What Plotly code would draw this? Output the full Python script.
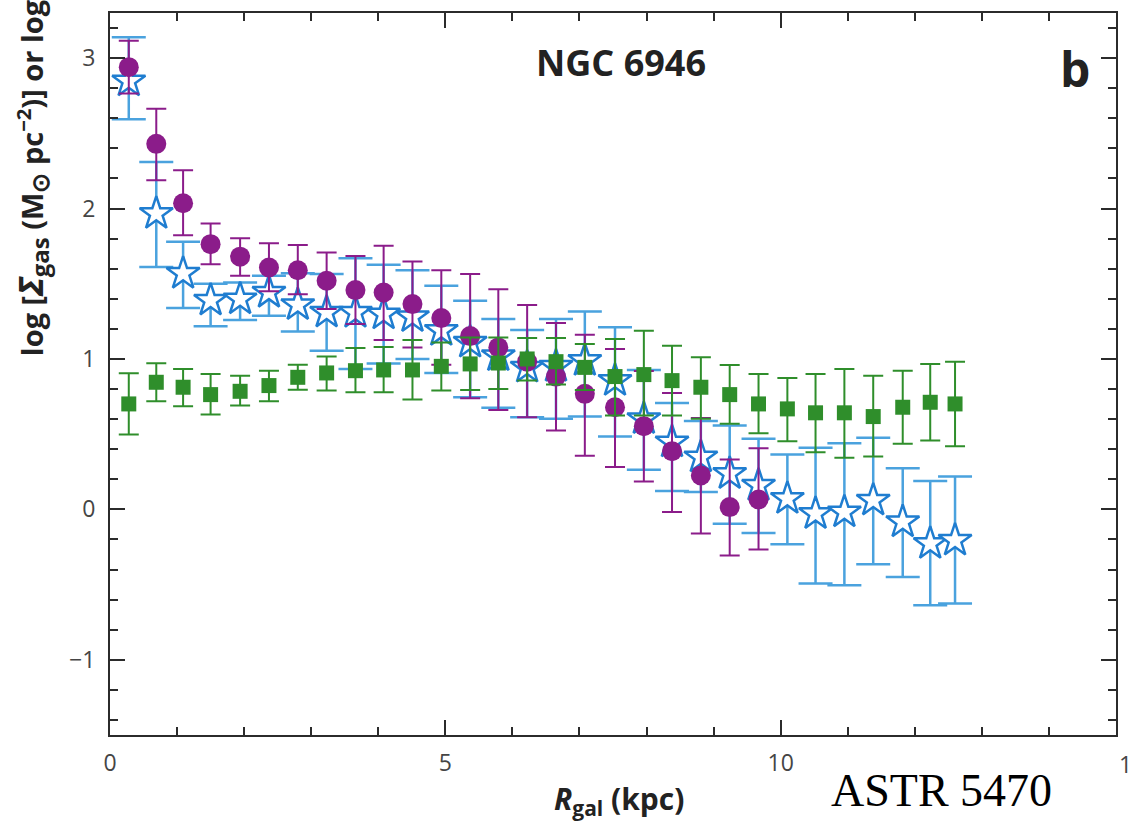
import plotly.graph_objects as go

# ---------------- data ----------------
R_kpc = [0.28, 0.69, 1.09, 1.50, 1.94, 2.37, 2.80, 3.23, 3.66, 4.08, 4.51, 4.94, 5.37, 5.79, 6.22,
         6.65, 7.08, 7.53, 7.96, 8.38, 8.81, 9.24, 9.67, 10.10, 10.52, 10.95, 11.38, 11.82, 12.23, 12.60]

# purple filled circles (first 23 radii)
circ = [2.94, 2.43, 2.035, 1.763, 1.68, 1.608, 1.59, 1.52, 1.458, 1.442, 1.365, 1.272, 1.152, 1.077,
        0.982, 0.883, 0.768, 0.679, 0.553, 0.387, 0.226, 0.015, 0.066]
circ_hi = [3.116, 2.663, 2.254, 1.9, 1.803, 1.77, 1.757, 1.707, 1.685, 1.752, 1.648, 1.59, 1.564, 1.464,
           1.358, 1.239, 1.161, 1.066, 0.92, 0.774, 0.608, 0.332, 0.407]
circ_lo = [2.765, 2.188, 1.823, 1.63, 1.553, 1.45, 1.431, 1.332, 1.232, 1.126, 1.077, 0.962, 0.739, 0.661,
           0.613, 0.524, 0.356, 0.281, 0.186, -0.018, -0.161, -0.307, -0.267]

# blue open stars
star = [2.847, 1.966, 1.568, 1.39, 1.398, 1.442, 1.36, 1.31, 1.309, 1.298, 1.28, 1.188, 1.11, 1.02, 0.944,
        0.95, 0.989, 0.856, 0.602, 0.447, 0.347, 0.237, 0.159, 0.071, -0.029, -0.018, 0.06, -0.084, -0.228, -0.206]
star_hi = [3.139, 2.309, 1.78, 1.5, 1.508, 1.553, 1.57, 1.564, 1.67, 1.626, 1.59, 1.486, 1.387, 1.265, 1.192,
           1.265, 1.316, 1.21, 0.927, 0.708, 0.587, 0.557, 0.469, 0.365, 0.41, 0.44, 0.476, 0.274, 0.188, 0.219]
star_lo = [2.593, 1.612, 1.338, 1.217, 1.259, 1.287, 1.183, 1.055, 0.934, 0.97, 1.0, 0.907, 0.745, 0.675, 0.612,
           0.602, 0.617, 0.484, 0.263, 0.122, 0.115, -0.095, -0.157, -0.232, -0.493, -0.504, -0.365, -0.449, -0.637, -0.626]

# green squares
sq = [0.701, 0.845, 0.812, 0.763, 0.785, 0.823, 0.878, 0.907, 0.922, 0.927, 0.927, 0.951, 0.967, 0.973, 1.0,
      0.982, 0.944, 0.883, 0.896, 0.856, 0.812, 0.763, 0.701, 0.668, 0.642, 0.642, 0.617, 0.679, 0.712, 0.701]
sq_hi = [0.905, 0.971, 0.934, 0.9, 0.889, 0.922, 0.962, 1.017, 1.073, 1.08, 1.126, 1.11, 1.143, 1.143, 1.14,
         1.14, 1.099, 1.133, 1.188, 1.088, 1.011, 0.96, 0.9, 0.874, 0.9, 0.934, 0.889, 0.922, 0.967, 0.982]
sq_lo = [0.498, 0.719, 0.685, 0.63, 0.69, 0.719, 0.796, 0.79, 0.778, 0.778, 0.73, 0.79, 0.794, 0.8, 0.856,
         0.83, 0.794, 0.624, 0.624, 0.624, 0.602, 0.57, 0.506, 0.453, 0.38, 0.343, 0.352, 0.436, 0.458, 0.42]

x_ticks = [0, 5, 10]
x_ticklabels = ["0", "5", "10"]
y_ticks = [-1, 0, 1, 2, 3]

# ---------------- styling ----------------
PURPLE = "#8B1C8A"
STAR_BLUE = "#1F7DD0"
BAR_BLUE = "#4AA2DE"
GREEN = "#2F8E2B"
AXIS = "#2b2b2b"
TICKFONT = "#454545"

W, H = 1129, 830
L, RGT, T, B = 110, 1118, 13, 735  # plot area in pixels


def px(xp):
    return (xp - L) / (RGT - L)


def py(yp):
    return (B - yp) / (B - T)


def err(c, hi, lo):
    return dict(type="data", symmetric=False,
                array=[h - v for h, v in zip(hi, c)],
                arrayminus=[v - l for v, l in zip(c, lo)])


fig = go.Figure()

e = err(star, star_hi, star_lo)
e.update(color=BAR_BLUE, thickness=2.5, width=17)
fig.add_trace(go.Scatter(x=R_kpc[:len(star)], y=star, mode="markers",
                         marker=dict(symbol="star", size=25, color="white",
                                     line=dict(color=STAR_BLUE, width=2.5)),
                         error_y=e, showlegend=False, cliponaxis=False))

e = err(circ, circ_hi, circ_lo)
e.update(color=PURPLE, thickness=2, width=10)
fig.add_trace(go.Scatter(x=R_kpc[:len(circ)], y=circ, mode="markers",
                         marker=dict(symbol="circle", size=20, color=PURPLE, line=dict(width=0)),
                         error_y=e, showlegend=False, cliponaxis=False))

e = err(sq, sq_hi, sq_lo)
e.update(color=GREEN, thickness=2, width=10)
fig.add_trace(go.Scatter(x=R_kpc[:len(sq)], y=sq, mode="markers",
                         marker=dict(symbol="square", size=15, color=GREEN, line=dict(width=0)),
                         error_y=e, showlegend=False, cliponaxis=False))

axis_common = dict(showline=True, linewidth=2, linecolor=AXIS, mirror="ticks",
                   ticks="inside", tickcolor=AXIS, tickwidth=1.5, ticklen=15,
                   showgrid=False, zeroline=False,
                   tickfont=dict(family="Open Sans", size=23, color=TICKFONT))

fig.update_xaxes(range=[0, 15], tickvals=x_ticks, ticktext=x_ticklabels, ticklabelstandoff=6,
                 minor=dict(tickvals=list(range(1, 15)), ticks="inside", ticklen=8,
                            tickcolor=AXIS, tickwidth=1.5),
                 **axis_common)
fig.update_yaxes(range=[-1.5, 3.3], tickvals=y_ticks, ticklabelstandoff=8,
                 minor=dict(dtick=0.2, tick0=0, ticks="inside", ticklen=8,
                            tickcolor=AXIS, tickwidth=1.5),
                 **axis_common)

ytitle = ("<b>log [<span style='font-size:34px'><i>Σ</i></span>"
          "<sub><span style='font-size:24px'>gas</span></sub> "
          "(M<sub><span style='font-size:24px'>⊙</span></sub> pc<sup>−2</sup>)] or log [Σ<sub>SFR</sub>]</b>")

ann = [
    dict(text="<b>NGC 6946</b>", x=px(622), y=py(62), font=dict(family="Open Sans", size=36, color="#222")),
    dict(text="<b>b</b>", x=px(1077), y=py(68), font=dict(family="Open Sans", size=48, color="#222")),
    dict(text="<b><i>R</i><sub>gal</sub> (kpc)</b>", x=px(620), y=py(800),
         font=dict(family="Open Sans", size=30, color="#222")),
    dict(text="ASTR 5470", x=px(943), y=py(790), font=dict(family="Liberation Serif", size=46, color="black")),
    dict(text="15", x=px(1119), y=py(764), xanchor="left",
         font=dict(family="Open Sans", size=23, color=TICKFONT)),
    dict(text=ytitle, x=px(31), y=py(358), yanchor="bottom", textangle=-90,
         font=dict(family="Open Sans", size=29, color="#222")),
]
for a in ann:
    a.setdefault("xanchor", "center")
    a.setdefault("yanchor", "middle")
    a.update(xref="paper", yref="paper", showarrow=False)
fig.update_layout(annotations=ann)

fig.update_layout(width=W, height=H, autosize=False,
                  margin=dict(l=L, r=W - RGT, t=T, b=H - B, pad=0),
                  paper_bgcolor="white", plot_bgcolor="white")

fig.write_html("out.html")
